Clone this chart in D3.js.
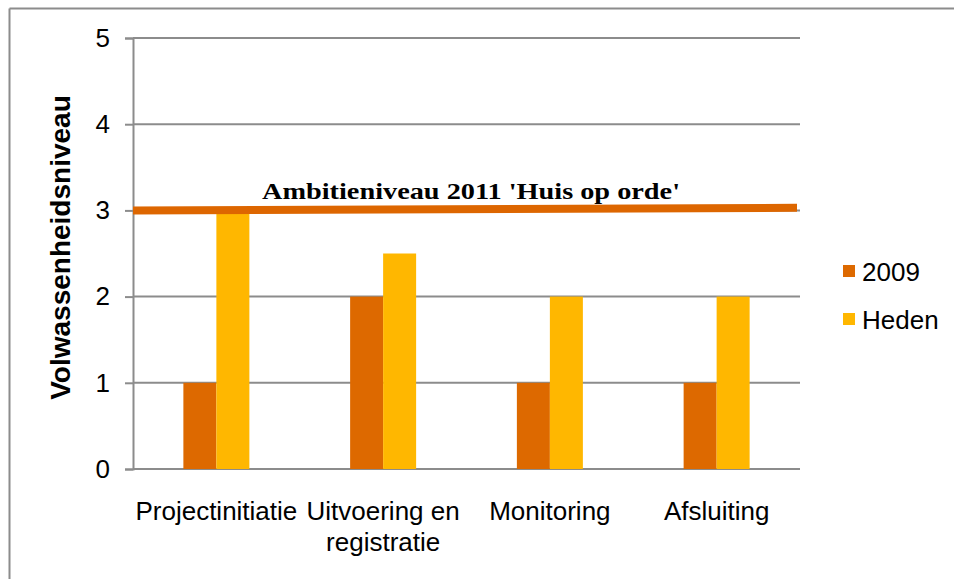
<!DOCTYPE html>
<html>
<head>
<meta charset="utf-8">
<script src="https://cdn.jsdelivr.net/npm/d3@7"></script>
<style>
  body { margin: 0; background: #fff; }
</style>
</head>
<body>
<div id="chart"></div>
<script>
// data
let categories = ["Projectinitiatie", "Uitvoering en registratie", "Monitoring", "Afsluiting"];
let series = ["2009", "Heden"];
let values2009 = [1, 2, 1, 1];
let valuesHeden = [3, 2.5, 2, 2];
let yTicks = [0, 1, 2, 3, 4, 5];
let ambition = { label: "Ambitieniveau 2011 'Huis op orde'", start: 3, end: 3.03 };

let colors = { "2009": "#DD6900", "Heden": "#FFB700" };
let sans = "Liberation Sans, Arial, sans-serif";

let W = 954, H = 579;
let margin = { top: 38, right: 154, bottom: 110, left: 133 },
	w = W - margin.left - margin.right,
	h = H - margin.top - margin.bottom;

let svgRoot = d3.select("#chart")
	.append("svg")
	.attr("width", W)
	.attr("height", H)
	.attr("font-family", sans);

// outer frame (only top and left edges visible)
svgRoot.append("line")
	.attr("x1", 9.5).attr("x2", W).attr("y1", 8.5).attr("y2", 8.5)
	.attr("stroke", "#8c8c8c").attr("stroke-width", 2);
svgRoot.append("line")
	.attr("x1", 9.5).attr("x2", 9.5).attr("y1", 8.5).attr("y2", H)
	.attr("stroke", "#8c8c8c").attr("stroke-width", 2);

let svg = svgRoot.append("g")
	.attr("transform", "translate(" + margin.left + "," + margin.top + ")");

// scales
let x = d3.scaleBand()
	.domain(categories)
	.range([0, w]);

let y = d3.scaleLinear()
	.domain([0, 5])
	.range([h, 0]);

let barW = 33;
let xSub = d3.scaleBand()
	.domain(series)
	.range([x.bandwidth() / 2 - barW, x.bandwidth() / 2 + barW]);

// gridlines + y axis
let yAxis = svg.append("g")
	.call(d3.axisLeft(y).tickValues(yTicks).tickSize(8).tickPadding(15).tickFormat(d3.format("d")));
yAxis.select(".domain").attr("stroke", "#8c8c8c").attr("stroke-width", 2);
yAxis.selectAll(".tick line").attr("stroke", "#8c8c8c").attr("stroke-width", 2);
yAxis.selectAll(".tick text")
	.attr("font-size", 26)
	.attr("font-family", sans)
	.attr("fill", "#000");

svg.append("g")
	.selectAll("line")
	.data(yTicks)
	.enter().append("line")
	.attr("x1", 0).attr("x2", w)
	.attr("y1", d => y(d)).attr("y2", d => y(d))
	.attr("stroke", "#8c8c8c").attr("stroke-width", 2);

// bars
let rows = categories.map((c, i) => ({ cat: c, vals: [
	{ key: "2009", value: values2009[i] },
	{ key: "Heden", value: valuesHeden[i] }
] }));

svg.append("g")
	.selectAll("g")
	.data(rows)
	.enter().append("g")
	.attr("transform", d => "translate(" + x(d.cat) + ",0)")
	.selectAll("rect")
	.data(d => d.vals)
	.enter().append("rect")
	.attr("x", d => xSub(d.key))
	.attr("y", d => y(d.value))
	.attr("width", xSub.bandwidth())
	.attr("height", d => h - y(d.value))
	.attr("fill", d => colors[d.key]);

// x axis labels
let labelG = svg.append("g");
categories.forEach(c => {
	let words = c === "Uitvoering en registratie" ? ["Uitvoering en", "registratie"] : [c];
	let t = labelG.append("text")
		.attr("text-anchor", "middle")
		.attr("font-size", 26)
		.attr("x", x(c) + x.bandwidth() / 2)
		.attr("y", h + 51);
	words.forEach((wd, i) => {
		t.append("tspan")
			.attr("x", x(c) + x.bandwidth() / 2)
			.attr("dy", i === 0 ? 0 : 31)
			.text(wd);
	});
});

// ambition line
svg.append("line")
	.attr("x1", 0).attr("x2", w - 3)
	.attr("y1", y(ambition.start)).attr("y2", y(ambition.end))
	.attr("stroke", "#DD6600").attr("stroke-width", 8);

svg.append("text")
	.attr("x", 471 - margin.left)
	.attr("y", y(ambition.start) - 11)
	.attr("text-anchor", "middle")
	.attr("font-family", "Liberation Serif, Times New Roman, serif")
	.attr("font-weight", "bold")
	.attr("font-size", 24)
	.attr("textLength", 418)
	.attr("lengthAdjust", "spacingAndGlyphs")
	.text(ambition.label);

// y axis title
svgRoot.append("text")
	.attr("transform", "translate(70," + (margin.top + h / 2 - 6) + ") rotate(-90)")
	.attr("text-anchor", "middle")
	.attr("font-weight", "bold")
	.attr("font-size", 28)
	.text("Volwassenheidsniveau");

// legend
let legend = svgRoot.append("g")
	.attr("transform", "translate(843,265)");
series.forEach((s, i) => {
	let g = legend.append("g").attr("transform", "translate(0," + (i * 48) + ")");
	g.append("rect").attr("width", 12).attr("height", 12).attr("fill", colors[s]);
	g.append("text").attr("x", 19).attr("y", 16).attr("font-size", 26).text(s);
});
</script>
</body>
</html>
